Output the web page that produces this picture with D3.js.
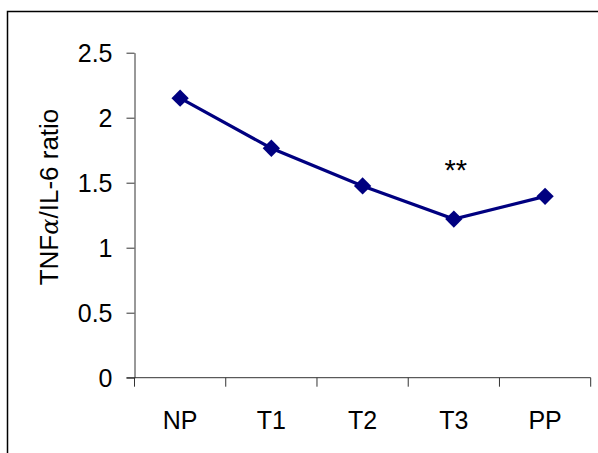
<!DOCTYPE html>
<html>
<head>
<meta charset="utf-8">
<script src="https://cdn.jsdelivr.net/npm/d3@7"></script>
<style>
  body { margin: 0; background: #fff; }
  text { font-family: "Liberation Sans", Arial, sans-serif; fill: #000; }
</style>
</head>
<body>
<div id="chart"></div>
<script>
// data
let groups = ["NP", "T1", "T2", "T3", "PP"];
let ratios = [2.15, 1.765, 1.475, 1.22, 1.395];
let yTicks = [0, 0.5, 1, 1.5, 2, 2.5];
let marked = "T3";   // group with the ** annotation

let width = 598, height = 453;
let margin = ({top: 52.7, right: 7.3, bottom: 75.3, left: 134.5});

const svg = d3.select("#chart").append("svg")
    .attr("width", width)
    .attr("height", height);

// frame around the figure (right/bottom fall off the picture)
svg.append("rect")
    .attr("x", 7.5).attr("y", 11.5)
    .attr("width", width + 20).attr("height", height + 20)
    .attr("fill", "none")
    .attr("stroke", "#000")
    .attr("stroke-width", 1.5);

let x = d3.scaleBand()
    .domain(groups)
    .range([margin.left, width - margin.right]);

let y = d3.scaleLinear()
    .domain([0, 2.5])
    .range([height - margin.bottom, margin.top]);

let xAxis = g => g
    .attr("transform", `translate(0,${y(0)})`)
    .call(d3.axisBottom(x).tickSize(0).tickPadding(0))
    .call(g => g.select(".domain").remove())
    .call(g => g.selectAll(".tick text")
        .attr("y", 51).attr("dy", 0)
        .style("font-size", "25px")
        .style("font-family", "Liberation Sans, Arial, sans-serif"));

let yAxis = g => g
    .attr("transform", `translate(${margin.left},0)`)
    .call(d3.axisLeft(y).tickValues(yTicks).tickFormat(d3.format("")).tickSize(8).tickPadding(14).tickSizeOuter(0))
    .call(g => g.select(".domain").attr("stroke", "#333"))
    .call(g => g.selectAll(".tick line").attr("stroke", "#333"))
    .call(g => g.selectAll(".tick text")
        .attr("dy", "0.36em")
        .style("font-size", "25px")
        .style("font-family", "Liberation Sans, Arial, sans-serif"));

svg.append("g").call(xAxis);
svg.append("g").call(yAxis);

// x baseline with category dividers
let edges = groups.map(d => x(d)).concat([x(groups[groups.length - 1]) + x.bandwidth()]);
svg.append("line")
    .attr("x1", margin.left - 8).attr("x2", edges[edges.length - 1])
    .attr("y1", y(0)).attr("y2", y(0))
    .attr("stroke", "#333");
svg.append("g")
    .selectAll("line")
    .data(edges)
    .join("line")
    .attr("x1", d => d).attr("x2", d => d)
    .attr("y1", y(0)).attr("y2", y(0) + 9)
    .attr("stroke", "#333");

let pts = groups.map((g, i) => [x(g) + x.bandwidth() / 2, y(ratios[i])]);

svg.append("path")
    .attr("d", d3.line()(pts))
    .attr("fill", "none")
    .attr("stroke", "#000080")
    .attr("stroke-width", 3.2);

svg.append("g")
    .selectAll("path")
    .data(pts)
    .join("path")
    .attr("transform", d => `translate(${d[0]},${d[1]}) rotate(45)`)
    .attr("d", d3.symbol(d3.symbolSquare, 150)())
    .attr("fill", "#000080");

svg.append("text")
    .attr("x", x(marked) + x.bandwidth() / 2 + 2)
    .attr("y", y(1.52))
    .attr("text-anchor", "middle")
    .style("font-size", "29px")
    .text("**");

// y label with a symbol-style alpha
let ylab = svg.append("text")
    .attr("transform", `translate(57.5,197) rotate(-90)`)
    .attr("text-anchor", "middle")
    .style("font-size", "26px");
ylab.append("tspan").text("TNF");
ylab.append("tspan")
    .style("font-family", "DejaVu Serif, serif")
    .style("font-style", "italic")
    .style("font-size", "24px")
    .text("α");
ylab.append("tspan").text("/IL-6 ratio");
</script>
</body>
</html>
